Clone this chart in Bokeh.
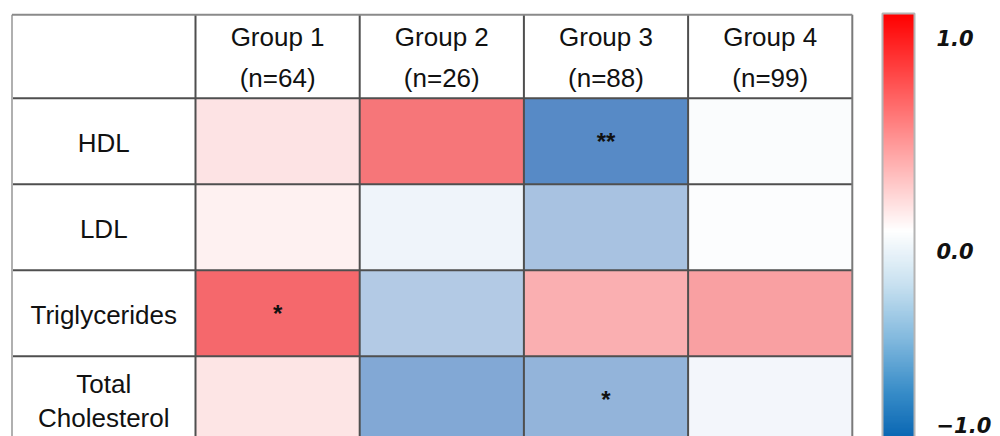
import numpy as np
from bokeh.plotting import figure
from bokeh.models import Range1d, LinearColorMapper, ColorBar, FixedTicker, ColumnDataSource
from bokeh.transform import linear_cmap
from bokeh.core.properties import value
from bokeh.embed import file_html
from bokeh.resources import INLINE

# ---------------- data ----------------
groups = ["Group 1", "Group 2", "Group 3", "Group 4"]
group_n = ["(n=64)", "(n=26)", "(n=88)", "(n=99)"]
measure_lines = [["HDL"], ["LDL"], ["Triglycerides"], ["Total", "Cholesterol"]]
corr_hdl = [0.13, 0.64, -0.70, -0.02]
corr_ldl = [0.07, -0.07, -0.36, -0.01]
corr_tg = [0.70, -0.32, 0.37, 0.44]
corr_tc = [0.12, -0.52, -0.45, -0.05]
sig_hdl = ["", "", "**", ""]
sig_ldl = ["", "", "", ""]
sig_tg = ["*", "", "", ""]
sig_tc = ["", "", "*", ""]
cbar_ticks = [1.0, 0.0, -1.0]
cbar_labels = ["1.0", "0.0", "\u22121.0"]

corr = [corr_hdl, corr_ldl, corr_tg, corr_tc]
sig = [sig_hdl, sig_ldl, sig_tg, sig_tc]

# ---------------- layout / style ----------------
W, H = 1000, 436
OX, OY = 0, 0                  # data coords equal canvas pixels
TL, LABEL_W, COL_W = 11.5, 183.5, 164.2
TT, HEAD_H, ROW_H = 14.3, 83.4, 86.0
FONT = "Liberation Sans"


def make_palette(anchors, n=256):
    vals = np.array([a[0] for a in anchors])
    cols = np.array([a[1] for a in anchors], dtype=float)
    out = []
    for v in np.linspace(vals[0], vals[-1], n):
        r, g, b = (np.interp(v, vals, cols[:, k]) for k in range(3))
        out.append("#%02x%02x%02x" % (int(round(r)), int(round(g)), int(round(b))))
    return out


cell_palette = make_palette([(-1, (16, 88, 174)), (0, (255, 255, 255)), (1, (241, 40, 45))])
bar_palette = make_palette([(-1, (0, 95, 175)), (-0.75, (55, 140, 200)), (-0.5, (130, 185, 222)),
                            (-0.25, (200, 225, 240)), (0, (255, 255, 255)), (1, (255, 0, 0))])

p = figure(width=W, height=H, output_backend="svg", toolbar_location=None,
           x_range=Range1d(OX, OX + W), y_range=Range1d(OY + H, OY),
           min_border=0, outline_line_color=None, background_fill_color="white")
p.xaxis.visible = False
p.yaxis.visible = False
p.grid.visible = False

col_left = [TL + LABEL_W + j * COL_W for j in range(len(groups))]
row_top = [TT + HEAD_H + i * ROW_H for i in range(len(measure_lines))]

# heat cells
cl, cr, ct, cb, cv = [], [], [], [], []
for i, row in enumerate(corr):
    for j, v in enumerate(row):
        cl.append(col_left[j]); cr.append(col_left[j] + COL_W)
        ct.append(row_top[i]); cb.append(row_top[i] + ROW_H); cv.append(v)
src = ColumnDataSource(dict(left=cl, right=cr, top=ct, bottom=cb, r=cv))
p.quad(left="left", right="right", top="top", bottom="bottom", source=src,
       fill_color=linear_cmap("r", cell_palette, -1, 1), line_color=None)

# grid lines
right_edge = TL + LABEL_W + len(groups) * COL_W
bottom_edge = TT + HEAD_H + len(measure_lines) * ROW_H
vx = [TL + LABEL_W + j * COL_W for j in range(len(groups) + 1)]
hy = [TT + HEAD_H + i * ROW_H for i in range(len(measure_lines) + 1)]
p.segment(x0=vx[:-1], x1=vx[:-1], y0=[TT] * (len(vx) - 1), y1=[bottom_edge] * (len(vx) - 1),
          line_color="#4f4f4f", line_width=2)
p.segment(x0=[TL] * len(hy), x1=[right_edge] * len(hy), y0=hy, y1=hy,
          line_color="#4f4f4f", line_width=2)
p.segment(x0=[TL, vx[-1], TL], x1=[TL, vx[-1], right_edge], y0=[TT, TT, TT],
          y1=[bottom_edge, bottom_edge, TT], line_color=["#b0b0b0", "#7a7a7a", "#8a8a8a"], line_width=2)

# header texts
hx = [c + COL_W / 2 for c in col_left]
hc = TT + HEAD_H / 2
p.text(x=hx, y=[hc - 20] * len(groups), text=groups, text_font=value(FONT), text_font_size="26px",
       text_align="center", text_baseline="middle", text_color="#111111")
p.text(x=hx, y=[hc + 21] * len(groups), text=group_n, text_font=value(FONT), text_font_size="26px",
       text_align="center", text_baseline="middle", text_color="#111111")

# row labels
lx, ly, lt = [], [], []
for i, lines in enumerate(measure_lines):
    c = row_top[i] + ROW_H / 2
    k = len(lines)
    for m, s in enumerate(lines):
        lx.append(TL + LABEL_W / 2)
        ly.append(c + 2 + (m - (k - 1) / 2) * 34)
        lt.append(s)
p.text(x=lx, y=ly, text=lt, text_font=value(FONT), text_font_size="26px",
       text_align="center", text_baseline="middle", text_color="#111111")

# significance markers
sx, sy, st = [], [], []
for i, row in enumerate(sig):
    for j, s in enumerate(row):
        if s:
            sx.append(col_left[j] + COL_W / 2)
            sy.append(row_top[i] + ROW_H / 2)
            st.append(s)
p.text(x=sx, y=sy, text=st, text_font=value(FONT), text_font_size="24px", text_font_style="bold",
       text_align="center", text_baseline="middle", text_color="#111111")

# colour bar
bar_mapper = LinearColorMapper(palette=bar_palette, low=-1, high=1)
BAR_X, BAR_TOP, BAR_W, BAR_H = 882, 13, 32, 434
cbar = ColorBar(color_mapper=bar_mapper, orientation="vertical", width=BAR_W, height=BAR_H,
                location=(BAR_X - OX, (OY + H) - (BAR_TOP + BAR_H)), padding=0, margin=0,
                ticker=FixedTicker(ticks=[]), major_tick_line_color=None, minor_tick_line_color=None,
                major_label_text_alpha=0, bar_line_color="#b4b4b4", bar_line_width=2,
                border_line_color=None, background_fill_alpha=0)
p.add_layout(cbar, "center")

label_y = np.interp(cbar_ticks, [-1, 0, 1], [424, 250, 37])
p.text(x=[936] * len(cbar_ticks), y=list(label_y), text=cbar_labels, text_font=value("DejaVu Sans"),
       text_font_size="21px", text_font_style="bold italic", text_align="left",
       text_baseline="middle", text_color="#111111")

open("out.html", "w").write(file_html(p, INLINE))
